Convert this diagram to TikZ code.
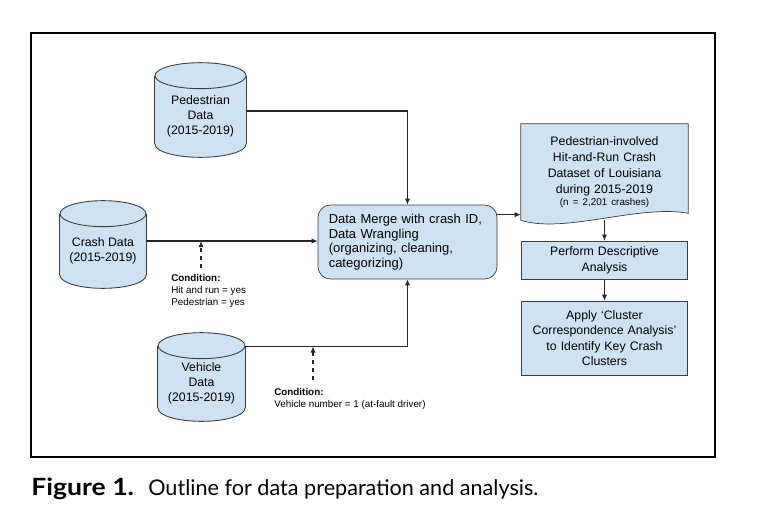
\documentclass[tikz,border=0pt]{standalone}
\usepackage{fontspec}
\setmainfont{Liberation Sans}
\newfontfamily\capfont[BoldFeatures={FakeStretch=1.12}]{Lato}
\usetikzlibrary{
    arrows.meta,
    calc,
    backgrounds
}
\definecolor{boxblue}{HTML}{CFE2F3}
\definecolor{edge}{HTML}{3C3C3C}
\tikzstyle{arrow} = [
    -{Latex[length=3.5pt,width=3pt]},
    line width=0.6pt,
    draw=black!85
]
\tikzstyle{dasharrow} = [
    arrow,
    dash pattern=on 2.5pt off 2pt
]
\tikzstyle{database} = [
    rectangle,
    inner sep=0pt,
    align=center,
    font=\fontsize{7}{8.5}\selectfont
]
\tikzstyle{drum} = [
    draw=edge,
    fill=boxblue,
    line width=0.5pt
]
\tikzstyle{process} = [
    rectangle,
    draw=edge,
    fill=boxblue,
    text width=3.1cm,
    minimum width=3.26cm,
    align=center,
    font=\fontsize{7}{8.8}\selectfont
]
\tikzstyle{condition} = [
    align=left,
    inner sep=0pt,
    font=\fontsize{5.6}{6.8}\selectfont
]

\begin{document}
\begin{tikzpicture}[x=0.02cm, y=-0.02cm]
        \useasboundingbox (0,0) rectangle (765,531);

        % Frame
        \draw[line width=1.1pt] (31,33) rectangle (715,457);

        % Source data
        \node[database, minimum width=1.82cm, minimum height=1.62cm] (ped) at (200.5,116.5) {Pedestrian\\Data\\(2015-2019)};
        \node[database, minimum width=1.72cm, minimum height=1.48cm] (crash) at (103,251) {Crash Data\\(2015-2019)};
        \node[database, minimum width=1.74cm, minimum height=1.50cm] (veh) at (201.5,383.5) {Vehicle\\Data\\(2015-2019)};
        \begin{scope}[on background layer]
            \foreach \n/\w in {ped/0.91cm, crash/0.86cm, veh/0.87cm} {
                \draw[drum] ($(\n.south)+(0,-13)$) ellipse [x radius=\w, y radius=0.26cm];
                \fill[boxblue] (\n.north west) rectangle ($(\n.south east)+(0,-13)$);
                \draw[edge, line width=0.5pt] (\n.north west) -- ($(\n.south west)+(0,-13)$);
                \draw[edge, line width=0.5pt] (\n.north east) -- ($(\n.south east)+(0,-13)$);
                \draw[drum] (\n.north) ellipse [x radius=\w, y radius=0.26cm];
            }
        \end{scope}

        % Merge step
        \node[process, rounded corners=7pt, minimum width=3.58cm, minimum height=1.48cm,
              text width=3.15cm, align=left, font=\fontsize{7.4}{8.3}\selectfont]
              (merge) at (407.5,242) {Data Merge with crash ID,\\Data Wrangling\\(organizing, cleaning,\\categorizing)};

        % Dataset
        \node[process, draw=none, fill=none, minimum height=1.92cm, font=\fontsize{7}{9}\selectfont]
              (dset) at (604.5,172) {Pedestrian-involved\\Hit-and-Run Crash\\Dataset of Louisiana\\during 2015-2019\\[-2pt]{\fontsize{5.6}{6.8}\selectfont(n = 2,201 crashes)}};
        \begin{scope}[on background layer]
            \draw[draw=edge, fill=boxblue] (dset.south west) -- (dset.north west) -- (dset.north east)
                -- ($(dset.south east)+(0,-7)$) .. controls (640,204) and (565,234) .. (dset.south west) -- cycle;
        \end{scope}

        % Analysis
        \node[process, minimum height=0.66cm] (perf) at (604.5,260.5) {Perform Descriptive\\Analysis};
        \node[process, minimum height=1.48cm] (apply) at (604.5,338) {Apply ‘Cluster\\Correspondence Analysis’\\to Identify Key Crash\\Clusters};

        % Connectors
        \coordinate (pout) at ($(ped.east)+(0,-5.5)$);
        \coordinate (cout) at ($(crash.east)+(0,-10)$);
        \coordinate (vout) at ($(veh.east)+(0,-37)$);
        \coordinate (mout) at ($(merge.north east)+(0,10)$);
        \draw[arrow] (cout) -- (cout -| merge.west);
        \draw[arrow] (pout) -| (merge.north);
        \draw[arrow] (vout) -| (merge.south);
        \draw[arrow] (mout) -- (mout -| dset.west);
        \draw[arrow] (dset.south) -- (perf.north);
        \draw[arrow] (perf.south) -- (apply.north);

        % Conditions
        \coordinate (cond1) at (201,268);
        \draw[dasharrow] (cond1) -- (cond1 |- cout);
        \node[condition, anchor=north west] (cond1txt) at (171,274) {\textbf{Condition:}\\Hit and run = yes\\Pedestrian = yes};
        \coordinate (cond2) at (313,380);
        \draw[dasharrow] (cond2) -- (cond2 |- vout);
        \node[condition, anchor=north west] (cond2txt) at (274,388) {\textbf{Condition:}\\Vehicle number = 1 (at-fault driver)};

        % Caption
        \node[anchor=base west, inner sep=0pt, font=\capfont\fontsize{12.3}{15}\selectfont]
              (caption) at (31,495) {\makebox[2.34cm][l]{\fontsize{13.5}{15}\selectfont\textbf{Figure 1.}}Outline for data preparation and analysis.};
    \end{tikzpicture}
\end{document}
